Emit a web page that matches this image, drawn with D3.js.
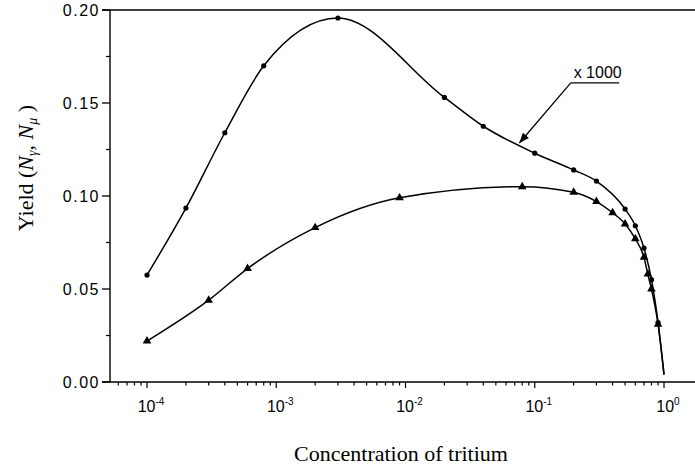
<!DOCTYPE html>
<html>
<head>
<meta charset="utf-8">
<script src="https://cdn.jsdelivr.net/npm/d3@7"></script>
<style>
  body { margin: 0; background: #fff; }
  svg { display: block; }
  .tick-label { font-family: "Liberation Sans", Arial, sans-serif; font-size: 16px; fill: #000; }
  .title { font-family: "Liberation Serif", "Times New Roman", serif; font-size: 22px; fill: #000; }
</style>
</head>
<body>
<div id="chart"></div>
<script>

// concentration of tritium, gamma yield (x1000), circles
var gammaConc  = [1e-4, 2e-4, 4e-4, 8e-4, 3e-3, 2e-2, 4e-2, 0.1, 0.2, 0.3, 0.5, 0.6, 0.7, 0.8, 0.9];
var gammaYield = [0.0575, 0.0935, 0.134, 0.170, 0.1957, 0.153, 0.1375, 0.123, 0.114, 0.108, 0.093, 0.084, 0.072, 0.055, 0.032];

// muon yield, triangles
var muConc  = [1e-4, 3e-4, 6e-4, 2e-3, 9e-3, 8e-2, 0.2, 0.3, 0.4, 0.5, 0.6, 0.7, 0.75, 0.8, 0.9];
var muYield = [0.022, 0.044, 0.061, 0.083, 0.099, 0.105, 0.102, 0.097, 0.091, 0.085, 0.077, 0.067, 0.058, 0.050, 0.031];

// both curves run down to this point at c = 1
var tailConc = 1.0, tailYield = 0.004;

var xDecades = [1e-4, 1e-3, 1e-2, 1e-1, 1];
var xExps = ["-4", "-3", "-2", "-1", "0"];
var yTicks = [0, 0.05, 0.10, 0.15, 0.20];
var yMinor = [0.025, 0.075, 0.125, 0.175];

var width = 695, height = 469;
var plotLeft = 110, plotTop = 10, plotBottom = 382;

var svg = d3.select("#chart").append("svg")
    .attr("width", width)
    .attr("height", height);

svg.append("rect").attr("width", width).attr("height", height).attr("fill", "#fff");

var x = d3.scaleLog().domain([1e-4, 1]).range([147, 664]);
var y = d3.scaleLinear().domain([0, 0.2]).range([plotBottom, plotTop]);

// frame: left, top and bottom lines (plot runs off the right edge)
svg.append("line").attr("x1", plotLeft).attr("x2", plotLeft).attr("y1", plotTop).attr("y2", plotBottom)
    .attr("stroke", "#000").attr("stroke-width", 1.4);
svg.append("line").attr("x1", plotLeft - 8).attr("x2", width).attr("y1", plotTop).attr("y2", plotTop)
    .attr("stroke", "#000").attr("stroke-width", 1.6);
svg.append("line").attr("x1", plotLeft - 8).attr("x2", width).attr("y1", plotBottom).attr("y2", plotBottom)
    .attr("stroke", "#000").attr("stroke-width", 1.6);

// y ticks
yTicks.forEach(function(v){
  svg.append("line").attr("x1", plotLeft - 8).attr("x2", plotLeft).attr("y1", y(v)).attr("y2", y(v))
     .attr("stroke", "#000").attr("stroke-width", 1.3);
  svg.append("text").attr("class", "tick-label")
     .attr("x", plotLeft - 10).attr("y", y(v)).attr("dy", "0.36em")
     .attr("text-anchor", "end").attr("letter-spacing", "1.5px")
     .text(d3.format(".2f")(v));
});
yMinor.forEach(function(v){
  svg.append("line").attr("x1", plotLeft - 4).attr("x2", plotLeft).attr("y1", y(v)).attr("y2", y(v))
     .attr("stroke", "#000").attr("stroke-width", 1.2);
});

// x ticks, major + minor (2..9 in each decade), pointing down
var xMin = x.invert(plotLeft), xMax = x.invert(width);
for (var e = -5; e <= 0; e++) {
  for (var m = 1; m <= 9; m++) {
    var v = m * Math.pow(10, e);
    if (v < xMin || v > xMax) continue;
    svg.append("line").attr("x1", x(v)).attr("x2", x(v))
       .attr("y1", plotBottom).attr("y2", plotBottom + (m == 1 ? 6 : 3.5))
       .attr("stroke", "#000").attr("stroke-width", 1.2);
  }
}
xDecades.forEach(function(v, i){
  var t = svg.append("text").attr("class", "tick-label")
     .attr("x", x(v) + 4).attr("y", 412).attr("text-anchor", "middle");
  t.append("tspan").text("10");
  t.append("tspan").attr("dy", -7).attr("font-size", "10px").text(xExps[i]);
});

// curves
var line = d3.line()
    .x(function(d){ return x(d[0]); })
    .y(function(d){ return y(d[1]); })
    .curve(d3.curveMonotoneX);

var gammaPts = gammaConc.map(function(c, i){ return [c, gammaYield[i]]; });
var muPts = muConc.map(function(c, i){ return [c, muYield[i]]; });

svg.append("path").attr("d", line(gammaPts.concat([[tailConc, tailYield]])))
   .attr("fill", "none").attr("stroke", "#000").attr("stroke-width", 1.5);
svg.append("path").attr("d", line(muPts.concat([[tailConc, tailYield]])))
   .attr("fill", "none").attr("stroke", "#000").attr("stroke-width", 1.5);

svg.selectAll(".dot").data(gammaPts).enter().append("circle")
   .attr("cx", function(d){ return x(d[0]); })
   .attr("cy", function(d){ return y(d[1]); })
   .attr("r", 2.6).attr("fill", "#000");

var tri = d3.symbol().type(d3.symbolTriangle).size(32);
svg.selectAll(".tri").data(muPts).enter().append("path")
   .attr("d", tri)
   .attr("transform", function(d){ return "translate(" + x(d[0]) + "," + y(d[1]) + ")"; })
   .attr("fill", "#000");

// "x 1000" annotation (data coords)
var annTip = [0.076, 0.1285], annElbow = [0.19, 0.1608], annEnd = [0.45, 0.1608];
svg.append("line").attr("x1", x(annElbow[0])).attr("y1", y(annElbow[1]))
   .attr("x2", x(annEnd[0])).attr("y2", y(annEnd[1]))
   .attr("stroke", "#000").attr("stroke-width", 1.3);
svg.append("line").attr("x1", x(annElbow[0])).attr("y1", y(annElbow[1]))
   .attr("x2", x(annTip[0])).attr("y2", y(annTip[1]))
   .attr("stroke", "#000").attr("stroke-width", 1.3);
var ax = x(annTip[0]), ay = y(annTip[1]);
var ang = Math.atan2(y(annElbow[1]) - ay, x(annElbow[0]) - ax) * 180 / Math.PI;
svg.append("path").attr("d", "M0,0 L10,-4 L10,4 Z")
   .attr("transform", "translate(" + ax + "," + ay + ") rotate(" + ang + ")")
   .attr("fill", "#000");
svg.append("text").attr("class", "tick-label")
   .attr("x", x(0.2)).attr("y", 78).attr("font-size", "14px")
   .text("x 1000");

// axis titles
svg.append("text").attr("class", "title")
   .attr("x", 401).attr("y", 461).attr("text-anchor", "middle")
   .text("Concentration of tritium");

var yt = svg.append("text").attr("class", "title")
   .attr("transform", "translate(33,168) rotate(-90)")
   .attr("text-anchor", "middle");
yt.append("tspan").text("Yield (");
yt.append("tspan").attr("font-style", "italic").text("N");
yt.append("tspan").attr("font-style", "italic").attr("font-size", "14px").attr("dy", 4).text("γ");
yt.append("tspan").attr("dy", -4).text(", ");
yt.append("tspan").attr("font-style", "italic").text("N");
yt.append("tspan").attr("font-style", "italic").attr("font-size", "14px").attr("dy", 4).text("μ");
yt.append("tspan").attr("dy", -4).text(" )");

</script>
</body>
</html>
